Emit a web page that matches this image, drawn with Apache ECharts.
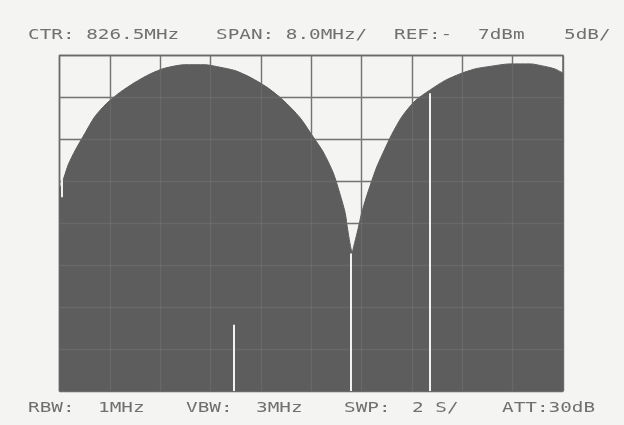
<!DOCTYPE html>
<html>
<head>
<meta charset="utf-8">
<script src="https://cdn.jsdelivr.net/npm/echarts@6/dist/echarts.min.js"></script>
<style>
html,body{margin:0;padding:0;background:#f4f4f2;}
#c{width:624px;height:425px;}
</style>
</head>
<body>
<div id="c"></div>
<script>
// Trace: frequency (MHz) and level (dBm)
const freqMHz = [822.50, 822.56, 822.64, 822.75, 822.91, 823.06, 823.25, 823.46, 823.70, 823.94, 824.18, 824.49, 824.81, 825.05, 825.29, 825.53, 825.80, 826.05, 826.32, 826.53, 826.69, 826.85, 826.96, 827.04, 827.08, 827.15,
  827.19, 827.24, 827.30, 827.37, 827.45, 827.54, 827.66, 827.78, 827.94, 828.15, 828.39, 828.62, 828.86, 829.10, 829.34, 829.66, 829.98, 830.21, 830.37, 830.50];
const levelDbm = [-23.0, -21.8, -20.0, -18.3, -16.2, -14.3, -12.7, -11.4, -10.2, -9.2, -8.5, -8.1, -8.1, -8.4, -8.8, -9.6, -10.8, -12.3, -14.4, -16.7, -18.5, -21.0, -23.6, -25.8, -27.8, -30.4,
  -29.3, -27.8, -25.8, -24.0, -22.2, -20.3, -18.3, -16.4, -14.3, -12.4, -11.1, -10.0, -9.2, -8.6, -8.3, -8.0, -8.0, -8.3, -8.6, -9.1];
// Gaps (white vertical lines) in the trace fill
const gapFreqs = [822.53, 825.27, 827.12, 828.39];
const gapTops = [-21.8, -39.1, -30.6, -11.5];
const gapBottoms = [-23.9, -47, -47, -47];
// Header / footer readouts
const headerTexts = ["CTR: 826.5MHz", "SPAN: 8.0MHz/", "REF:-", "7dBm", "5dB/"];
const footerTexts = ["RBW:", "1MHz", "VBW:", "3MHz", "SWP:", "2 S/", "ATT:30dB"];

const refLevel = -7, dbPerDiv = 5, yDivs = 8;
const ctr = 826.5, span = 8.0, xDivs = 10;

const headerX = [28, 216, 394, 478, 564];
const footerX = [28, 98, 186, 256, 344, 412, 502];

const txtStyle = { font: '14px "DejaVu Sans Mono"', fill: '#707070' };
const graphics = [];
headerTexts.forEach((t, i) => graphics.push({
  type: 'text', x: headerX[i], y: 28, scaleX: 1.38, scaleY: 1.0,
  style: Object.assign({ text: t }, txtStyle)
}));
footerTexts.forEach((t, i) => graphics.push({
  type: 'text', x: footerX[i], y: 401, scaleX: 1.38, scaleY: 1.0,
  style: Object.assign({ text: t }, txtStyle)
}));

const trace = freqMHz.map((f, i) => [f, levelDbm[i]]);
const gaps = gapFreqs.map((f, i) => [
  { coord: [f, gapBottoms[i]] },
  { coord: [f, gapTops[i]] }
]);
const rows = [];
for (let k = 1; k < yDivs; k++) rows.push({ yAxis: k });
const cols = [];
for (let k = 1; k < xDivs; k++) cols.push({ xAxis: k });

const chart = echarts.init(document.getElementById('c'), null, { renderer: 'canvas' });
chart.setOption({
  backgroundColor: '#f4f4f2',
  animation: false,
  grid: { left: 59.5, right: 61, top: 55.5, bottom: 34, show: true, borderColor: '#6a6a6a', borderWidth: 1.5, backgroundColor: 'transparent' },
  xAxis: [
    { type: 'value', min: ctr - span / 2, max: ctr + span / 2, show: false },
    { type: 'value', min: 0, max: xDivs, interval: 1, position: 'bottom',
      axisLine: { show: false }, axisTick: { show: false }, axisLabel: { show: false },
      splitLine: { show: true, lineStyle: { color: '#6a6a6a', width: 1.4 } } }
  ],
  yAxis: [
    { type: 'value', min: refLevel - dbPerDiv * yDivs, max: refLevel, show: false },
    { type: 'value', min: 0, max: yDivs, interval: 1,
      axisLine: { show: false }, axisTick: { show: false }, axisLabel: { show: false },
      splitLine: { show: true, lineStyle: { color: '#6a6a6a', width: 1.4 } } }
  ],
  series: [{
    type: 'line', xAxisIndex: 0, yAxisIndex: 0,
    data: trace, showSymbol: false, smooth: 0.25,
    lineStyle: { color: '#5d5d5d', width: 1 },
    areaStyle: { color: '#5d5d5d', opacity: 1, origin: 'start' },
    markLine: {
      silent: true, symbol: 'none', label: { show: false },
      lineStyle: { color: '#f1f1ef', width: 2, type: 'solid' },
      data: gaps
    }
  }, {
    type: 'line', xAxisIndex: 1, yAxisIndex: 1, data: [], z: 3,
    markLine: {
      silent: true, symbol: 'none', label: { show: false },
      lineStyle: { color: 'rgba(255,255,255,0.07)', width: 1.4, type: 'solid' },
      data: rows.concat(cols)
    }
  }],
  graphic: graphics
});
</script>
</body>
</html>
